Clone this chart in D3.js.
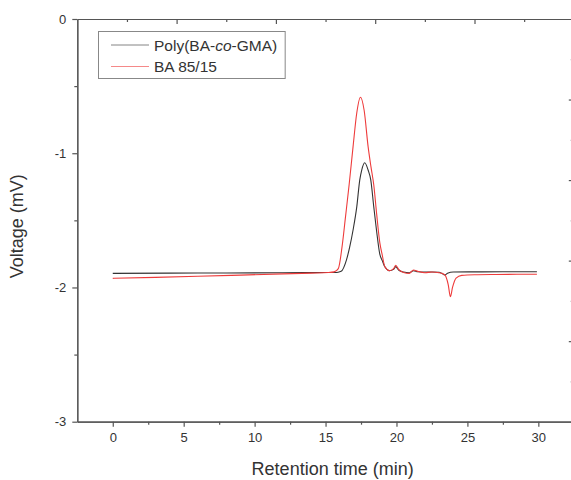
<!DOCTYPE html>
<html lang="en">
<head>
    <meta charset="UTF-8">
    <title>GPC</title>
    <script src="https://cdn.jsdelivr.net/npm/d3@7"></script>
    <style>
        body { margin: 0; background: #fff; }
        text { font-family: "Liberation Sans", Arial, sans-serif; fill: #333; }
    </style>
</head>
<body>
<svg></svg>
<script>
    var width = 571;
    var height = 480;

    // retention time (min) and voltage (mV)
    var polyTime = [0, 4, 8, 12, 15, 15.8, 16.1, 16.47, 16.7, 16.94, 17.2, 17.41, 17.55, 17.76, 18.0, 18.19, 18.4, 18.59, 18.82, 19.0, 19.18, 19.5, 19.8, 19.95, 20.15, 20.5, 20.9, 21.2, 21.5, 22, 22.5, 23, 23.2, 23.4, 23.6, 24, 25.5, 27.5, 29.9];
    var polyVolt = [-1.895, -1.893, -1.892, -1.890, -1.889, -1.888, -1.88, -1.796, -1.70, -1.572, -1.40, -1.2, -1.125, -1.071, -1.125, -1.2, -1.40, -1.572, -1.75, -1.80, -1.846, -1.875, -1.865, -1.845, -1.87, -1.885, -1.89, -1.875, -1.883, -1.885, -1.885, -1.887, -1.895, -1.907, -1.895, -1.885, -1.884, -1.883, -1.883];

    var baTime = [0, 3, 6, 9, 12, 14, 15.2, 15.6, 15.9, 16.16, 16.4, 16.66, 16.94, 17.2, 17.46, 17.72, 18.0, 18.2, 18.4, 18.6, 18.83, 19.0, 19.18, 19.5, 19.8, 19.95, 20.15, 20.5, 20.9, 21.2, 21.5, 22, 22.5, 23, 23.4, 23.65, 23.8, 23.95, 24.2, 24.6, 25.5, 27, 28.5, 29.9];
    var baVolt = [-1.932, -1.925, -1.917, -1.908, -1.899, -1.893, -1.889, -1.884, -1.86, -1.70, -1.48, -1.237, -0.951, -0.70, -0.583, -0.68, -0.951, -1.10, -1.237, -1.45, -1.67, -1.76, -1.846, -1.875, -1.86, -1.835, -1.865, -1.888, -1.895, -1.87, -1.88, -1.89, -1.885, -1.89, -1.905, -1.98, -2.069, -2.0, -1.93, -1.91, -1.905, -1.903, -1.902, -1.902];

    var seriesNames = ["Poly(BA-co-GMA)", "BA 85/15"];
    var seriesColors = ["#333333", "#ee3b3b"];

    var xTicks = [0, 5, 10, 15, 20, 25, 30];
    var xMinor = [2.5, 7.5, 12.5, 17.5, 22.5, 27.5];
    var yTicks = [0, -1, -2, -3];
    var yMinor = [-0.5, -1.5, -2.5];

    var svg = d3.select('svg')
        .attr('width', width)
        .attr('height', height);

    var x = d3.scaleLinear().domain([-2.5, 32.5]).range([77.3, 573.8]);
    var y = d3.scaleLinear().domain([-3, 0]).range([421.7, 19]);
    // top / right frame of the second layer, ticks only
    var xTop = d3.scaleLinear().domain([0, 5]).range([77.3, 573.8]);
    var yRight = d3.scaleLinear().domain([0, 5]).range([19, 421.7]);

    function styleAxis(g) {
        g.selectAll('path, line').attr('stroke', '#555').attr('stroke-width', 1.2);
        g.selectAll('text').style('font-size', '13px').attr('fill', '#333');
    }

    // minor ticks first
    svg.append('g').attr('transform', 'translate(0,' + y(-3) + ')')
        .call(d3.axisBottom(x).tickValues(xMinor).tickSize(3).tickFormat('').tickSizeOuter(0))
        .call(styleAxis);
    svg.append('g').attr('transform', 'translate(' + x(-2.5) + ',0)')
        .call(d3.axisLeft(y).tickValues(yMinor).tickSize(3).tickFormat('').tickSizeOuter(0))
        .call(styleAxis);
    svg.append('g').attr('transform', 'translate(0,' + y(0) + ')')
        .call(d3.axisTop(xTop).tickValues([0.5, 1.5, 2.5, 3.5, 4.5]).tickSize(-3).tickFormat('').tickSizeOuter(0))
        .call(styleAxis);
    svg.append('g').attr('transform', 'translate(' + x(32.5) + ',0)')
        .call(d3.axisRight(yRight).tickValues([0.5, 1.5, 2.5, 3.5, 4.5]).tickSize(-3).tickFormat('').tickSizeOuter(0))
        .call(styleAxis);

    // major ticks
    svg.append('g').attr('transform', 'translate(0,' + y(-3) + ')')
        .call(d3.axisBottom(x).tickValues(xTicks).tickSize(5).tickPadding(6).tickSizeOuter(0))
        .call(styleAxis);
    svg.append('g').attr('transform', 'translate(' + x(-2.5) + ',0)')
        .call(d3.axisLeft(y).tickValues(yTicks).tickSize(5).tickPadding(6).tickSizeOuter(0)
            .tickFormat(function(d){ return String(d); }))
        .call(styleAxis);
    svg.append('g').attr('transform', 'translate(0,' + y(0) + ')')
        .call(d3.axisTop(xTop).tickValues([1, 2, 3, 4]).tickSize(-5).tickFormat('').tickSizeOuter(0))
        .call(styleAxis);
    svg.append('g').attr('transform', 'translate(' + x(32.5) + ',0)')
        .call(d3.axisRight(yRight).tickValues([1, 2, 3, 4]).tickSize(-5).tickFormat('').tickSizeOuter(0))
        .call(styleAxis);

    // curves
    var line = d3.line()
        .x(function(d){ return x(d[0]); })
        .y(function(d){ return y(d[1]); })
        .curve(d3.curveMonotoneX);

    var series = [d3.zip(polyTime, polyVolt), d3.zip(baTime, baVolt)];
    svg.selectAll('path.curve')
        .data(series)
        .enter()
        .append('path')
        .attr('class', 'curve')
        .attr('fill', 'none')
        .attr('stroke', function(d, i){ return seriesColors[i]; })
        .attr('stroke-width', 1.1)
        .attr('d', line);

    // axis titles
    svg.append('text')
        .attr('x', x(15.5))
        .attr('y', 475)
        .attr('text-anchor', 'middle')
        .style('font-size', '18px')
        .text('Retention time (min)');
    svg.append('text')
        .attr('transform', 'translate(23,' + (y(-1.5) + 6) + ') rotate(-90)')
        .attr('text-anchor', 'middle')
        .style('font-size', '18px')
        .text('Voltage (mV)');

    // legend
    var legend = svg.append('g');
    var box = legend.append('rect')
        .attr('x', 98.5).attr('y', 31.5)
        .attr('height', 47)
        .attr('fill', '#fff')
        .attr('stroke', '#888')
        .attr('stroke-width', 1);
    var rows = legend.selectAll('g.row')
        .data(seriesNames)
        .enter()
        .append('g')
        .attr('class', 'row')
        .attr('transform', function(d, i){ return 'translate(0,' + (45 + i * 21.5) + ')'; });
    rows.append('line')
        .attr('x1', 111).attr('x2', 149)
        .attr('stroke', function(d, i){ return seriesColors[i]; })
        .attr('stroke-opacity', 0.6)
        .attr('stroke-width', 1);
    var labels = rows.append('text')
        .attr('x', 154)
        .attr('dy', '0.36em')
        .style('font-size', '15.5px');
    labels.each(function(d){
        var t = d3.select(this);
        if (d.indexOf('-co-') > -1) {
            var parts = d.split('co');
            t.append('tspan').text(parts[0]);
            t.append('tspan').style('font-style', 'italic').text('co');
            t.append('tspan').text(parts[1]);
        } else {
            t.text(d);
        }
    });
    var maxW = d3.max(labels.nodes(), function(n){ return n.getComputedTextLength(); });
    box.attr('width', 154 + maxW + 8 - 98.5);
</script>
</body>
</html>
